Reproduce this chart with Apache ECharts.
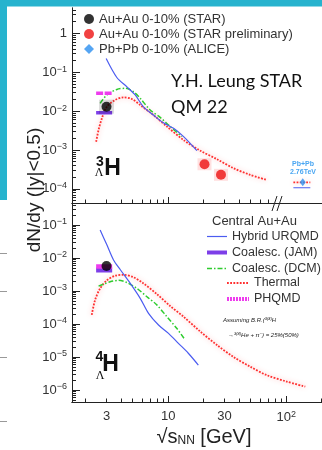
<!DOCTYPE html>
<html>
<head>
<meta charset="utf-8">
<script src="https://cdn.jsdelivr.net/npm/echarts@6/dist/echarts.min.js"></script>
<style>
html, body { margin: 0; padding: 0; background: #fff; }
#chart { width: 322px; height: 450px; }
</style>
</head>
<body>
<div id="chart"></div>
<script>
// ---- data: upper panel (3ΛH) ----
var urqmd3X = [2.98, 3.67, 4.47, 5.25, 6.17, 7.5, 9.1, 11.1, 13.5, 17.5];
var urqmd3Y = [0.224, 0.073, 0.042, 0.026, 0.0129, 0.0079, 0.005, 0.0036, 0.0022, 0.00096];
var dcm3X = [2.65, 3.02, 3.67, 4.32, 5.08, 5.79, 7.03, 8.55, 10.4, 13.1];
var dcm3Y = [0.0158, 0.026, 0.036, 0.0386, 0.0315, 0.0213, 0.0107, 0.0069, 0.0040, 0.0022];
var thermal3X = [2.45, 2.57, 2.74, 3.02, 3.55, 4.18, 4.92, 5.79, 7.5, 9.75, 13.5, 18.7, 25.9, 35.8, 49.5, 68.6];
var thermal3Y = [0.00163, 0.0033, 0.0065, 0.013, 0.0193, 0.0226, 0.0205, 0.0143, 0.0079, 0.0040, 0.0018, 0.00096, 0.00058, 0.00034, 0.00023, 0.00017];
var jam3X = [2.45, 3.35];
var jam3Y = [0.0091, 0.0091];
var phqmd3X = [2.45, 3.35];
var phqmd3Y = [0.0288, 0.0288];
var star3X = [3.0];
var star3Y = [0.013];
var starPrelimX = [20.3, 28.0];
var starPrelimY = [0.00043, 0.00023];
var aliceX = [138];
var aliceY = [0.000148];
var aliceThermalX = [115, 160];
var aliceThermalY = [0.000148, 0.000148];
var aliceUrqmdX = [115, 160];
var aliceUrqmdY = [0.000107, 0.000107];

// ---- data: lower panel (4ΛH) ----
var urqmd4X = [2.65, 3.02, 3.44, 3.93, 4.77, 5.79, 6.81, 8.28, 10.06, 12.2, 14.8, 18.0];
var urqmd4Y = [0.071, 0.025, 0.0087, 0.0044, 0.0017, 0.0006, 0.00021, 9.3e-5, 5.2e-5, 2.6e-5, 1.3e-5, 5.7e-6];
var dcm4X = [2.57, 3.22, 3.79, 4.47, 5.43, 6.6, 8.0, 9.75, 11.8, 13.9];
var dcm4Y = [0.0014, 0.0019, 0.0021, 0.0018, 0.0012, 0.00067, 0.00038, 0.000166, 7.4e-5, 3.3e-5];
var thermal4X = [2.25, 2.40, 2.65, 3.02, 3.55, 4.18, 5.08, 6.17, 8.0, 10.4, 13.5, 18.7, 25.9, 35.8, 49.5, 68.6, 101, 145];
var thermal4Y = [0.00019, 0.00053, 0.0012, 0.0021, 0.0029, 0.0031, 0.0026, 0.0017, 0.00081, 0.00035, 0.000166, 5.9e-5, 2.3e-5, 1.0e-5, 5.1e-6, 2.8e-6, 1.8e-6, 1.26e-6];
var jam4X = [2.45, 3.35];
var jam4Y = [0.0043, 0.0043];
var phqmd4X = [2.45, 3.35];
var phqmd4Y = [0.0055, 0.0055];
var star4X = [3.0];
var star4Y = [0.0057];

// ---- tick labels ----
var xLabelValues = [3, 10, 30, 100];
var yLabelsTop = [1e-4, 1e-3, 1e-2, 1e-1, 1];
var yLabelsBottom = [1e-6, 1e-5, 1e-4, 1e-3, 1e-2, 1e-1];

var X_MIN = 1.53, X_MAX = 201;
var Y1_MIN = 4.34e-5, Y1_MAX = 4.47;
var Y2_MIN = 4.33e-7, Y2_MAX = 0.464;

var FONT = 'Liberation Sans';
var AX = '#222';

function zip(xs, ys) {
    return xs.map(function (x, i) { return [x, ys[i]]; });
}

function minorTicks(kLo, kHi, lo, hi) {
    var out = [];
    for (var k = kLo; k <= kHi; k++) {
        for (var m = 2; m <= 9; m++) {
            var v = +(m * Math.pow(10, k)).toPrecision(3);
            if (v > lo && v < hi) out.push(v);
        }
    }
    return out;
}

function fmtX(v) {
    v = Math.round(v * 1000) / 1000;
    return v === 100 ? '10{sup|2}' : String(v);
}

function fmtY(v) {
    var e = Math.round(Math.log10(v));
    if (e === 0) return '1';
    return '10{sup|' + (e < 0 ? '\u2212' : '') + Math.abs(e) + '}';
}

var labelRich = {
    sup: { fontSize: 9, fontFamily: FONT, color: '#333', verticalAlign: 'top', padding: [0, 0, 6, 0] }
};

function xAxisOf(grid, ticks, len, labels) {
    return {
        type: 'log', gridIndex: grid, position: 'bottom', min: X_MIN, max: X_MAX,
        axisLine: { show: true, lineStyle: { color: AX, width: 1 } },
        axisTick: { show: true, inside: true, length: len, customValues: ticks, lineStyle: { color: AX, width: 1 } },
        axisLabel: labels ? {
            show: true, customValues: labels, formatter: fmtX, rich: labelRich,
            fontSize: 13, fontFamily: FONT, color: '#333', margin: 8
        } : { show: false },
        splitLine: { show: false }
    };
}

function yAxisOf(grid, min, max, ticks, len, labels) {
    return {
        type: 'log', gridIndex: grid, position: 'left', min: min, max: max,
        axisLine: { show: true, lineStyle: { color: AX, width: 1 } },
        axisTick: { show: true, inside: true, length: len, customValues: ticks, lineStyle: { color: AX, width: 1 } },
        axisLabel: labels ? {
            show: true, customValues: labels, formatter: fmtY, rich: labelRich,
            fontSize: 13, fontFamily: FONT, color: '#333', margin: 5
        } : { show: false },
        splitLine: { show: false }
    };
}

var BLUE = '#4b5cf0', GREEN = '#2ecc2e', RED = '#ff3030', PURPLE = '#7d3ee8', MAGENTA = '#ee3cee';

function lineSeries(name, x, y, xi, yi, style, extra) {
    var s = {
        name: name, type: 'line', xAxisIndex: xi, yAxisIndex: yi,
        data: zip(x, y), symbol: 'none', smooth: 0.3, lineStyle: style, z: 2
    };
    if (extra) Object.keys(extra).forEach(function (k) { s[k] = extra[k]; });
    return s;
}

var urqmdStyle = { color: BLUE, width: 1.2 };
var dcmStyle = { color: GREEN, width: 1.5, type: [5, 2, 1.5, 2] };
var thermalStyle = { color: RED, width: 1.8, type: [1.8, 1.4], shadowColor: 'rgba(255,60,60,0.4)', shadowBlur: 5 };
var jamStyle = { color: PURPLE, width: 3.5 };
var phqmdStyle = { color: MAGENTA, width: 3.5, type: [7, 1.5] };

var series = [
    // upper panel
    lineSeries('Thermal', thermal3X, thermal3Y, 0, 0, thermalStyle),
    lineSeries('Coalesc. (DCM)', dcm3X, dcm3Y, 0, 0, dcmStyle),
    lineSeries('Hybrid URQMD', urqmd3X, urqmd3Y, 0, 0, urqmdStyle),
    lineSeries('Coalesc. (JAM)', jam3X, jam3Y, 0, 0, jamStyle, { smooth: false }),
    lineSeries('PHQMD', phqmd3X, phqmd3Y, 0, 0, phqmdStyle, { smooth: false }),
    lineSeries('Thermal', aliceThermalX, aliceThermalY, 0, 0, thermalStyle, { smooth: false }),
    lineSeries('Hybrid URQMD', aliceUrqmdX, aliceUrqmdY, 0, 0, urqmdStyle, { smooth: false }),
    {
        name: 'sys STAR', type: 'scatter', xAxisIndex: 0, yAxisIndex: 0, data: zip(star3X, star3Y),
        symbol: 'rect', symbolSize: [15, 14], itemStyle: { color: 'rgba(0,0,0,0.16)' }, z: 3
    },
    {
        name: 'sys STAR prelim', type: 'scatter', xAxisIndex: 0, yAxisIndex: 0, data: zip(starPrelimX, starPrelimY),
        symbol: 'rect', symbolSize: [14, 12], itemStyle: { color: 'rgba(255,40,40,0.18)' }, z: 3
    },
    {
        name: 'Au+Au 0-10% (STAR)', type: 'scatter', xAxisIndex: 0, yAxisIndex: 0, data: zip(star3X, star3Y),
        symbol: 'circle', symbolSize: 10, itemStyle: { color: '#000' }, z: 4
    },
    {
        name: 'Au+Au 0-10% (STAR preliminary)', type: 'scatter', xAxisIndex: 0, yAxisIndex: 0, data: zip(starPrelimX, starPrelimY),
        symbol: 'circle', symbolSize: 10, itemStyle: { color: '#ee1111' }, z: 4
    },
    {
        name: 'Pb+Pb 0-10% (ALICE)', type: 'scatter', xAxisIndex: 0, yAxisIndex: 0, data: zip(aliceX, aliceY),
        symbol: 'diamond', symbolSize: [6, 8], itemStyle: { color: '#2a8ef0' }, z: 4
    },
    // lower panel
    lineSeries('Thermal', thermal4X, thermal4Y, 2, 2, thermalStyle),
    lineSeries('Coalesc. (DCM)', dcm4X, dcm4Y, 2, 2, dcmStyle),
    lineSeries('Hybrid URQMD', urqmd4X, urqmd4Y, 2, 2, urqmdStyle),
    lineSeries('Coalesc. (JAM)', jam4X, jam4Y, 2, 2, { color: PURPLE, width: 5 }, { smooth: false }),
    lineSeries('PHQMD', phqmd4X, phqmd4Y, 2, 2, { color: MAGENTA, width: 4.5 }, { smooth: false }),
    {
        name: 'Au+Au 0-10% (STAR)', type: 'scatter', xAxisIndex: 2, yAxisIndex: 2, data: zip(star4X, star4Y),
        symbol: 'circle', symbolSize: 10, itemStyle: { color: '#000' }, z: 4
    }
];

var legendText = { fontSize: 13, fontFamily: FONT, color: '#333', lineHeight: 14 };
var legendTextSmall = { fontSize: 12.5, fontFamily: FONT, color: '#333', lineHeight: 14 };
var noSymbol = { opacity: 0 };

var option = {
    animation: false,
    backgroundColor: '#fff',
    textStyle: { fontFamily: FONT },
    grid: [
        { left: 72, top: 8, width: 250, height: 195 },
        { left: 72, top: 203, width: 250, height: 199 }
    ],
    xAxis: [
        xAxisOf(0, minorTicks(0, 1, X_MIN, 75), 3.5),
        xAxisOf(0, [10], 6),
        xAxisOf(1, minorTicks(0, 2, X_MIN, X_MAX), 3.5, xLabelValues),
        xAxisOf(1, [10, 100], 6)
    ],
    yAxis: [
        yAxisOf(0, Y1_MIN, Y1_MAX, minorTicks(-5, 0, Y1_MIN, Y1_MAX), 4),
        yAxisOf(0, Y1_MIN, Y1_MAX, yLabelsTop, 8, yLabelsTop),
        yAxisOf(1, Y2_MIN, Y2_MAX, minorTicks(-7, -1, Y2_MIN, Y2_MAX), 4),
        yAxisOf(1, Y2_MIN, Y2_MAX, yLabelsBottom, 8, yLabelsBottom)
    ],
    legend: [
        {
            data: ['Au+Au 0-10% (STAR)', 'Au+Au 0-10% (STAR preliminary)', 'Pb+Pb 0-10% (ALICE)'],
            orient: 'vertical', left: 84, top: 12, padding: 0, itemWidth: 10, itemHeight: 10, itemGap: 1,
            selectedMode: false, textStyle: legendText
        },
        {
            data: [
                { name: 'Hybrid URQMD', lineStyle: { width: 1.2 }, itemStyle: noSymbol },
                { name: 'Coalesc. (JAM)', lineStyle: { width: 4 }, itemStyle: noSymbol },
                { name: 'Coalesc. (DCM)', lineStyle: { width: 1.5 }, itemStyle: noSymbol }
            ],
            orient: 'vertical', left: 205, top: 229.5, padding: 0, itemWidth: 20, itemHeight: 10, itemGap: 2,
            selectedMode: false, textStyle: legendTextSmall
        },
        {
            data: [
                { name: 'Thermal', lineStyle: { width: 2, shadowBlur: 0 }, itemStyle: noSymbol },
                { name: 'PHQMD', lineStyle: { width: 4, type: [2, 1] }, itemStyle: noSymbol }
            ],
            orient: 'vertical', left: 225, top: 276, padding: 0, itemWidth: 22, itemHeight: 10, itemGap: 2,
            selectedMode: false, textStyle: legendTextSmall
        }
    ],
    graphic: [
        // slide frame behind the figure
        { type: 'rect', shape: { x: 0, y: 0, width: 322, height: 6.5 }, style: { fill: '#27b3ce' }, z: 100 },
        { type: 'rect', shape: { x: 0, y: 0, width: 7, height: 200 }, style: { fill: '#27b3ce' }, z: 100 },
        { type: 'line', shape: { x1: 0, y1: 253.5, x2: 7, y2: 253.5 }, style: { stroke: '#999', lineWidth: 1 } },
        { type: 'line', shape: { x1: 0, y1: 291.5, x2: 7, y2: 291.5 }, style: { stroke: '#999', lineWidth: 1 } },
        { type: 'line', shape: { x1: 0, y1: 357.5, x2: 7, y2: 357.5 }, style: { stroke: '#999', lineWidth: 1 } },
        { type: 'line', shape: { x1: 0, y1: 421.5, x2: 7, y2: 421.5 }, style: { stroke: '#999', lineWidth: 1 } },
        // axis break
        { type: 'line', shape: { x1: 272, y1: 211, x2: 277, y2: 196 }, style: { stroke: AX, lineWidth: 1 } },
        { type: 'line', shape: { x1: 277, y1: 211, x2: 282, y2: 196 }, style: { stroke: AX, lineWidth: 1 } },
        // y axis title
        {
            type: 'text', x: 35, y: 190, rotation: Math.PI / 2,
            style: { text: 'dN/dy (|y|<0.5)', font: '19px "Liberation Sans"', fill: '#222', align: 'center', verticalAlign: 'middle' }
        },
        // x axis title
        {
            type: 'text', x: 204, y: 437,
            style: {
                text: '\u221A{t|s}{sub|NN}{t| [GeV]}', fill: '#222', align: 'center', verticalAlign: 'middle',
                font: '20px "Liberation Sans"',
                rich: {
                    t: { fontSize: 20, fontFamily: FONT, fill: '#222' },
                    sub: { fontSize: 12, fontFamily: FONT, fill: '#222', verticalAlign: 'bottom', padding: [6, 0, 0, 0] }
                }
            }
        },
        // annotation
        {
            type: 'text', x: 171, y: 81,
            style: { text: 'Y.H. Leung STAR', font: '18px Lato', fill: '#111', align: 'left', verticalAlign: 'middle' }
        },
        {
            type: 'text', x: 171, y: 107,
            style: { text: 'QM 22', font: '18px Lato', fill: '#111', align: 'left', verticalAlign: 'middle' }
        },
        // ALICE label
        {
            type: 'text', x: 303, y: 164,
            style: { text: 'Pb+Pb', font: 'bold 7px "Liberation Sans"', fill: '#4aa6f2', align: 'center', verticalAlign: 'middle' }
        },
        {
            type: 'text', x: 303, y: 172,
            style: { text: '2.76TeV', font: 'bold 7px "Liberation Sans"', fill: '#4aa6f2', align: 'center', verticalAlign: 'middle' }
        },
        // particle labels
        { type: 'text', x: 100, y: 162, style: { text: '3', font: 'bold 14px "Liberation Sans"', fill: '#111', align: 'center', verticalAlign: 'middle' } },
        { type: 'text', x: 99, y: 173, style: { text: '\u039B', font: '12px "Liberation Serif"', fill: '#111', align: 'center', verticalAlign: 'middle' } },
        { type: 'text', x: 112.5, y: 168.5, style: { text: 'H', font: 'bold 23px "Liberation Sans"', fill: '#111', align: 'center', verticalAlign: 'middle' } },
        { type: 'text', x: 99.5, y: 357, style: { text: '4', font: 'bold 14px "Liberation Sans"', fill: '#111', align: 'center', verticalAlign: 'middle' } },
        { type: 'text', x: 100, y: 376, style: { text: '\u039B', font: '12px "Liberation Serif"', fill: '#111', align: 'center', verticalAlign: 'middle' } },
        { type: 'text', x: 110.5, y: 365, style: { text: 'H', font: 'bold 23px "Liberation Sans"', fill: '#111', align: 'center', verticalAlign: 'middle' } },
        // lower legend header
        {
            type: 'text', x: 212, y: 221,
            style: { text: 'Central Au+Au', font: '13px "Liberation Sans"', fill: '#333', align: 'left', verticalAlign: 'middle' }
        },
        // branching ratio note
        {
            type: 'text', x: 223, y: 320,
            style: {
                text: '{t|Assuming B.R.(}{s|3(4)}{t|H}', verticalAlign: 'middle',
                rich: {
                    t: { font: 'italic 6px "Liberation Sans"', fill: '#222' },
                    s: { font: 'italic 4px "Liberation Sans"', fill: '#222', verticalAlign: 'top', padding: [0, 0, 3, 0] }
                }
            }
        },
        {
            type: 'text', x: 228, y: 335,
            style: {
                text: '{t|\u2192}{s|3(4)}{t|He + \u03C0}{s|\u2212}{t|) = 25%(50%)}', verticalAlign: 'middle',
                rich: {
                    t: { font: 'italic 6px "Liberation Sans"', fill: '#222' },
                    s: { font: 'italic 4px "Liberation Sans"', fill: '#222', verticalAlign: 'top', padding: [0, 0, 3, 0] }
                }
            }
        }
    ],
    series: series
};

var chart = echarts.init(document.getElementById('chart'), null, { renderer: 'canvas' });
chart.setOption(option);
</script>
</body>
</html>
